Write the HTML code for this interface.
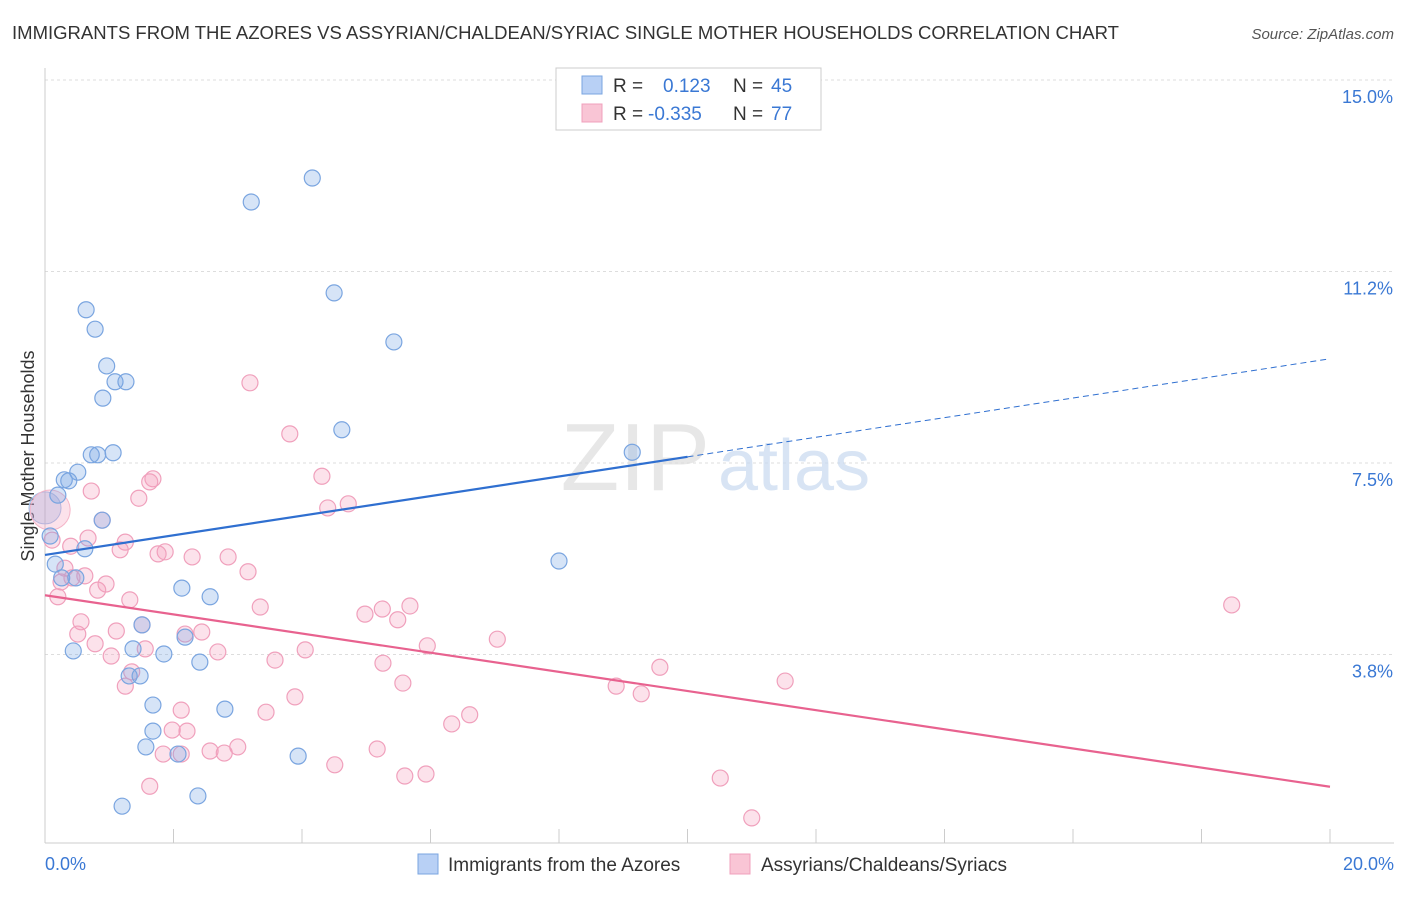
<!DOCTYPE html>
<html><head><meta charset="utf-8"><style>
body{margin:0;background:#fff;font-family:"Liberation Sans",sans-serif;}
svg text{font-family:"Liberation Sans",sans-serif;}
</style></head><body>
<svg id="chart" width="1406" height="892" viewBox="0 0 1406 892">
<text x="12" y="39" font-size="18" fill="#333" textLength="1107" lengthAdjust="spacingAndGlyphs">IMMIGRANTS FROM THE AZORES VS ASSYRIAN/CHALDEAN/SYRIAC SINGLE MOTHER HOUSEHOLDS CORRELATION CHART</text>
<text x="1394" y="39" font-size="15" fill="#555" font-style="italic" text-anchor="end">Source: ZipAtlas.com</text>
<text x="0" y="0" transform="translate(34,456) rotate(-90)" font-size="18" fill="#333" text-anchor="middle">Single Mother Households</text>
<g id="grid"></g>
<text x="710" y="490" font-size="96" fill="#ddd" text-anchor="end" font-family="Liberation Serif" opacity="0.7">ZIP</text>
<text x="718" y="490" font-size="72" fill="#c8daf0" opacity="0.7">atlas</text>
<g id="marks"></g>
<g>
<rect x="556" y="68" width="265" height="62" fill="#fff" stroke="#ccc"/>
<rect x="582" y="76" width="20" height="18" fill="#b8d0f5" stroke="#7aa5e0"/>
<text x="613" y="92" font-size="19" fill="#333">R =</text><text x="663" y="92" font-size="19" fill="#3a78d4">0.123</text>
<text x="733" y="92" font-size="19" fill="#333">N =</text><text x="771" y="92" font-size="19" fill="#3a78d4">45</text>
<rect x="582" y="104" width="20" height="18" fill="#f9c5d5" stroke="#f0a0bc"/>
<text x="613" y="120" font-size="19" fill="#333">R =</text><text x="648" y="120" font-size="19" fill="#3a78d4">-0.335</text>
<text x="733" y="120" font-size="19" fill="#333">N =</text><text x="771" y="120" font-size="19" fill="#3a78d4">77</text>
</g>
<g>
<rect x="418" y="854" width="20" height="20" fill="#b8d0f5" stroke="#7aa5e0"/>
<text x="448" y="871" font-size="19" fill="#333">Immigrants from the Azores</text>
<rect x="730" y="854" width="20" height="20" fill="#f9c5d5" stroke="#f0a0bc"/>
<text x="761" y="871" font-size="19" fill="#333">Assyrians/Chaldeans/Syriacs</text>
</g>
</svg>
<script>
const yTicks=[3.75,7.5,11.25,15];
const yTickLabels=["3.8%","7.5%","11.2%","15.0%"];
const xEndLabels=["0.0%","20.0%"];
const blueX=[4.16,3.21,4.50,0.64,0.78,5.43,0.96,1.09,1.26,0.90,4.62,1.06,0.72,0.82,9.14,0.51,0.30,0.37,0.20,0.89,0.08,0.62,8.00,0.16,0.26,0.48,2.13,2.57,1.51,2.18,0.44,1.37,1.85,2.41,1.31,1.48,1.68,2.80,1.68,1.57,2.07,3.94,1.20,2.38];
const blueY=[13.08,12.61,10.83,10.50,10.12,9.87,9.40,9.09,9.09,8.77,8.15,7.70,7.66,7.66,7.71,7.32,7.17,7.15,6.87,6.38,6.07,5.82,5.58,5.52,5.25,5.25,5.05,4.88,4.33,4.09,3.82,3.86,3.76,3.60,3.33,3.33,2.76,2.68,2.25,1.94,1.80,1.76,0.78,0.98];
const blueBig=[0.0,6.62];
const pinkX=[3.19,3.81,4.31,1.68,1.63,0.72,1.46,4.72,4.40,0.89,0.11,0.67,1.25,0.40,1.87,1.76,1.17,2.29,2.85,3.16,0.62,0.31,0.42,0.25,0.95,0.82,0.20,1.32,3.35,5.68,5.25,4.98,5.49,18.47,0.56,1.51,0.51,2.44,2.18,1.11,0.78,7.04,4.05,5.95,2.69,1.03,1.56,3.58,5.26,9.57,1.35,1.25,11.52,5.57,8.89,9.28,3.89,2.12,3.44,6.61,6.33,1.98,2.21,3.00,2.57,5.17,2.79,1.84,2.12,4.51,5.60,5.93,10.51,1.63,11.00];
const pinkY=[9.07,8.07,7.24,7.19,7.13,6.95,6.81,6.70,6.62,6.38,5.99,6.03,5.95,5.87,5.76,5.72,5.80,5.66,5.66,5.37,5.29,5.44,5.25,5.17,5.13,5.01,4.88,4.82,4.68,4.70,4.64,4.54,4.43,4.72,4.39,4.33,4.15,4.19,4.15,4.21,3.96,4.05,3.84,3.92,3.80,3.72,3.86,3.64,3.58,3.50,3.41,3.13,3.23,3.19,3.13,2.98,2.92,2.66,2.62,2.57,2.39,2.27,2.25,1.94,1.86,1.90,1.82,1.80,1.80,1.59,1.37,1.41,1.33,1.17,0.55];
const pinkBig=[0.08,6.58];
const blueLine=[5.70,9.54];
const blueSolidEnd=10;
const pinkLine=[4.91,1.16];
const NS="http://www.w3.org/2000/svg";
const sx=v=>45+v*64.25, sy=v=>846-v*51.07;
function mk(tag,attrs,parent){const e=document.createElementNS(NS,tag);for(const k in attrs)e.setAttribute(k,attrs[k]);parent.appendChild(e);return e;}
const grid=document.getElementById('grid'), marks=document.getElementById('marks');
yTicks.forEach((t,i)=>{
 const l=mk('line',{x1:45,x2:1394,y1:sy(t),y2:sy(t),stroke:'#ddd','stroke-dasharray':'3,3'},grid);
 
 
 const tx=mk('text',{x:1393,y:sy(t)+23,'font-size':18,fill:'#3a78d4','text-anchor':'end'},grid);
 tx.textContent=yTickLabels[i];
 
 
});
const axl=mk('line',{x1:45,x2:45,y1:68,y2:843,stroke:'#ccc'},grid);


const axb=mk('line',{x1:45,x2:1394,y1:843,y2:843,stroke:'#ccc'},grid);


for(let i=0;i<=10;i++){const t=mk('line',{x1:sx(i*2),x2:sx(i*2),y1:829,y2:843,stroke:'#ccc'},grid);
 
 }
[[0,'start',45],[20,'end',1394]].forEach((d,i)=>{const t=mk('text',{x:d[2],y:870,'font-size':18,fill:'#3a78d4','text-anchor':d[1]},grid);t.textContent=xEndLabels[i];
 
 });
function dots(X,Y,fill,stroke,name){X.forEach((x,i)=>{const c=mk('circle',{cx:sx(x),cy:sy(Y[i]),r:8,fill:fill,stroke:stroke,'stroke-width':1.2},marks);
 
 });}
const bb=mk('circle',{cx:sx(blueBig[0]),cy:sy(blueBig[1]),r:16,fill:'rgba(120,165,230,0.3)',stroke:'#9dbde8'},marks);


const pb=mk('circle',{cx:sx(pinkBig[0]),cy:sy(pinkBig[1]),r:20,fill:'rgba(245,160,190,0.3)',stroke:'#f5b5c8'},marks);


dots(pinkX,pinkY,'rgba(245,160,190,0.3)','#f0a0bc','assyrians-point');
dots(blueX,blueY,'rgba(120,165,230,0.3)','#7aa5e0','azores-point');
const by=x=>blueLine[0]+(blueLine[1]-blueLine[0])*x/20;
const bl=mk('line',{x1:sx(0),y1:sy(by(0)),x2:sx(blueSolidEnd),y2:sy(by(blueSolidEnd)),stroke:'#2f6fd0','stroke-width':2.2},marks);


const bd=mk('line',{x1:sx(blueSolidEnd),y1:sy(by(blueSolidEnd)),x2:sx(20),y2:sy(by(20)),stroke:'#2f6fd0','stroke-width':1,'stroke-dasharray':'6,4'},marks);


const pl=mk('line',{x1:sx(0),y1:sy(pinkLine[0]),x2:sx(20),y2:sy(pinkLine[1]),stroke:'#e8628f','stroke-width':2.2},marks);


</script>
</body></html>
